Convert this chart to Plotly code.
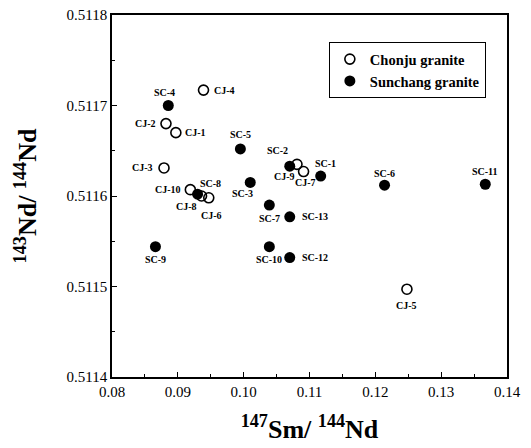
import plotly.graph_objects as go

# Chonju granite (open circles)
cj_names = ["CJ-1", "CJ-2", "CJ-3", "CJ-4", "CJ-5", "CJ-6", "CJ-7", "CJ-8", "CJ-9", "CJ-10"]
cj_sm = [0.0897, 0.0882, 0.0879, 0.0939, 0.1248, 0.0947, 0.1091, 0.0936, 0.1081, 0.0919]
cj_nd = [0.51167, 0.51168, 0.511631, 0.511717, 0.511497, 0.511598, 0.511627, 0.5116, 0.511635, 0.511607]

# Sunchang granite (filled circles)
sc_names = ["SC-1", "SC-2", "SC-3", "SC-4", "SC-5", "SC-6", "SC-7", "SC-8", "SC-9", "SC-10", "SC-11", "SC-12", "SC-13"]
sc_sm = [0.1117, 0.1070, 0.1010, 0.08855, 0.0995, 0.1214, 0.1039, 0.0930, 0.0866, 0.1039, 0.1367, 0.1070, 0.1070]
sc_nd = [0.511622, 0.511633, 0.511615, 0.5117, 0.511652, 0.511612, 0.51159, 0.511602, 0.511544, 0.511544, 0.511613, 0.511532, 0.511577]

x_ticks = [0.08, 0.09, 0.10, 0.11, 0.12, 0.13, 0.14]
x_ticklabels = ["0.08", "0.09", "0.10", "0.11", "0.12", "0.13", "0.14"]
y_ticks = [0.5114, 0.5115, 0.5116, 0.5117, 0.5118]
y_ticklabels = ["0.5114", "0.5115", "0.5116", "0.5117", "0.5118"]

# label offsets in pixels (styling)
cj_off = {"CJ-1": (20, 0), "CJ-2": (-20, 0), "CJ-3": (-22, 0), "CJ-4": (21, 0), "CJ-5": (0, -16),
          "CJ-6": (3, -18), "CJ-7": (2, -11), "CJ-8": (-15, -10), "CJ-9": (-12, -12), "CJ-10": (-22, 0)}
sc_off = {"SC-1": (5, 13), "SC-2": (-12, 16), "SC-3": (-8, -11), "SC-4": (-4, 13), "SC-5": (0, 14),
          "SC-6": (0, 12), "SC-7": (0, -13), "SC-8": (13, 11), "SC-9": (0, -13), "SC-10": (0, -13),
          "SC-11": (0, 13), "SC-12": (25, 0), "SC-13": (25, 0)}

FONT = "'Liberation Serif', 'Times New Roman', serif"

fig = go.Figure()
fig.add_trace(go.Scatter(
    x=cj_sm, y=cj_nd, mode="markers", name="<b>Chonju granite</b>",
    marker=dict(symbol="circle-open", size=10, color="black", line=dict(width=1.6, color="black")),
))
fig.add_trace(go.Scatter(
    x=sc_sm, y=sc_nd, mode="markers", name="<b>Sunchang granite</b>",
    marker=dict(symbol="circle", size=11, color="black"),
))

annotations = []
for names, xs, ys, off in [(cj_names, cj_sm, cj_nd, cj_off), (sc_names, sc_sm, sc_nd, sc_off)]:
    for n, x, y in zip(names, xs, ys):
        dx, dy = off[n]
        annotations.append(dict(x=x, y=y, text="<b>" + n + "</b>", showarrow=False, xshift=dx, yshift=dy,
                                font=dict(family=FONT, size=10, color="black")))

fig.update_layout(
    width=531, height=448,
    margin=dict(l=112, r=24, t=15, b=71),
    paper_bgcolor="white", plot_bgcolor="white",
    font=dict(family=FONT, color="black"),
    showlegend=True,
    legend=dict(x=0.549, y=0.925, xanchor="left", yanchor="top",
                bordercolor="black", borderwidth=1, bgcolor="white",
                font=dict(family=FONT, size=14.5, color="black"),
                itemwidth=30, tracegroupgap=5),
    annotations=annotations,
)
fig.update_xaxes(
    range=[0.08, 0.14], tickvals=x_ticks, ticktext=x_ticklabels, automargin=False,
    ticklabeloverflow="allow",
    showgrid=False, zeroline=False, showline=True, linecolor="black", linewidth=1.5,
    mirror=True, ticks="inside", ticklen=5, tickcolor="black",
    minor=dict(dtick=0.005, tick0=0.08, ticks="inside", ticklen=3, tickcolor="black"),
    tickfont=dict(family=FONT, size=15, color="black"),
    title=dict(text="<b><sup>147</sup>Sm/ <sup>144</sup>Nd</b>", font=dict(family=FONT, size=26, color="black"), standoff=21),
)
fig.update_yaxes(
    range=[0.5114, 0.5118], tickvals=y_ticks, ticktext=y_ticklabels, automargin=False,
    ticklabeloverflow="allow",
    showgrid=False, zeroline=False, showline=True, linecolor="black", linewidth=1.5,
    mirror=True, ticks="inside", ticklen=5, tickcolor="black",
    minor=dict(dtick=0.00005, tick0=0.5114, ticks="inside", ticklen=3, tickcolor="black"),
    tickfont=dict(family=FONT, size=15, color="black"),
    title=dict(text="<b><sup>143</sup>Nd/ <sup>144</sup>Nd</b>", font=dict(family=FONT, size=26, color="black"), standoff=22),
)

fig.write_html("out.html", config={"displayModeBar": False},
               post_script="document.body.style.margin='0px';")
